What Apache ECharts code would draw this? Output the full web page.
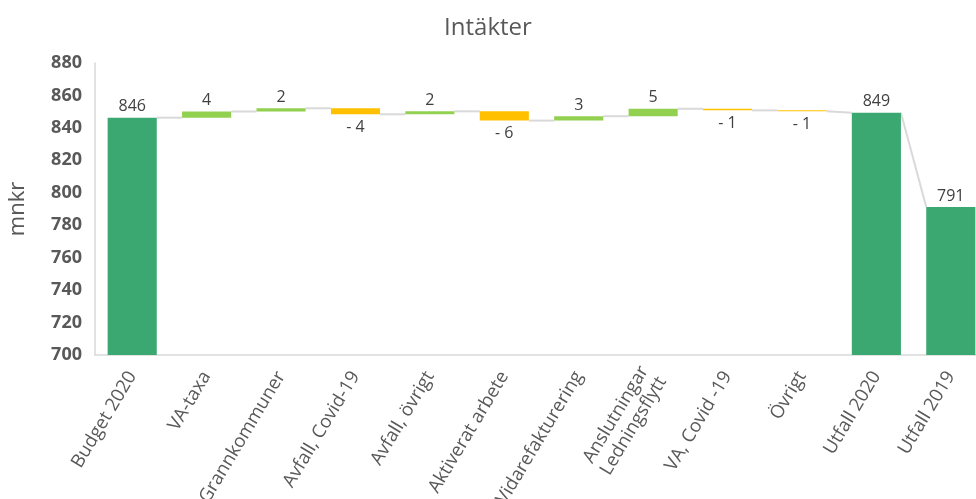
<!DOCTYPE html>
<html>
<head>
<meta charset="utf-8">
<script src="https://cdn.jsdelivr.net/npm/echarts@6/dist/echarts.min.js"></script>
<style>html,body{margin:0;padding:0;background:#fff;overflow:hidden;}#c{width:976px;height:499px;}</style>
</head>
<body>
<div id="c"></div>
<script>
// Categories and values (mnkr)
const categories = ['Budget 2020','VA-taxa','Grannkommuner','Avfall, Covid-19','Avfall, övrigt','Aktiverat arbete','Vidarefakturering','Anslutningar\nLedningsflytt','VA, Covid -19','Övrigt','Utfall 2020','Utfall 2019'];
// type: 'total' or 'delta'
const kinds = ['total','delta','delta','delta','delta','delta','delta','delta','delta','delta','total','total'];
const values = [846.3, 3.8, 2.0, -3.7, 1.8, -5.7, 2.7, 4.6, -1.0, -0.6, 849.4, 791.2];
const yTicks = {min: 700, max: 880, interval: 20};

// Build waterfall helper arrays
const base = [], totals = [], incs = [], decs = [], ends = [];
let run = 0;
for (let i = 0; i < values.length; i++) {
  if (kinds[i] === 'total') {
    run = values[i];
    base.push(0); totals.push(values[i]); incs.push('-'); decs.push('-');
    ends.push(values[i]);
  } else {
    const s = run, e = run + values[i];
    base.push(Math.min(s, e));
    totals.push('-');
    if (values[i] >= 0) { incs.push(values[i]); decs.push('-'); }
    else { decs.push(-values[i]); incs.push('-'); }
    ends.push(e);
    run = e;
  }
}
// connectors: from end of bar i to start (top) of bar i+1
const connectors = [];
for (let i = 0; i < values.length - 1; i++) {
  const nextTop = kinds[i+1] === 'total' ? values[i+1] : ends[i];
  connectors.push([i, ends[i], nextTop]);
}

const fontFam = '"Open Sans", Calibri, sans-serif';
const labelColor = '#404040';
const BARW = 0.66;

const chart = echarts.init(document.getElementById('c'));
chart.setOption({
  animation: false,
  title: {
    text: 'Intäkter', left: 'center', top: 11,
    textStyle: {fontFamily: fontFam, fontSize: 24, fontWeight: 'normal', color: '#595959'}
  },
  grid: {left: 95, width: 893, top: 63, bottom: 144, containLabel: false, outerBoundsMode: 'none'},
  xAxis: {
    type: 'category', data: categories,
    axisLine: {lineStyle: {color: '#d9d9d9', width: 1.5}},
    axisTick: {show: false},
    axisLabel: {rotate: 59, interval: 0, margin: 18, fontFamily: fontFam, fontSize: 18.5, color: '#595959', lineHeight: 21, align: 'right'}
  },
  yAxis: {
    type: 'value', min: yTicks.min, max: yTicks.max, interval: yTicks.interval,
    name: 'mnkr', nameLocation: 'middle', nameGap: 66, nameRotate: 90,
    nameTextStyle: {fontFamily: fontFam, fontSize: 22, color: '#595959'},
    axisLine: {show: true, lineStyle: {color: '#d9d9d9', width: 1.5}},
    axisTick: {show: false},
    splitLine: {show: false},
    axisLabel: {fontFamily: fontFam, fontSize: 18, fontWeight: 'bold', color: '#595959', margin: 13}
  },
  series: [
    {type: 'bar', stack: 'w', data: base, barWidth: (BARW*100)+'%', itemStyle: {color: 'transparent'}, silent: true},
    {type: 'bar', stack: 'w', data: totals, barWidth: (BARW*100)+'%', itemStyle: {color: '#3AA870'},
      label: {show: true, position: 'top', distance: 3, fontFamily: fontFam, fontSize: 16, color: labelColor,
        formatter: p => String(Math.round(values[p.dataIndex]))}},
    {type: 'bar', stack: 'w', data: incs, barWidth: (BARW*100)+'%', itemStyle: {color: '#92D050'},
      label: {show: true, position: 'top', distance: 3, fontFamily: fontFam, fontSize: 16, color: labelColor,
        formatter: p => String(Math.round(values[p.dataIndex]))}},
    {type: 'bar', stack: 'w', data: decs, barWidth: (BARW*100)+'%', itemStyle: {color: '#FFC000'},
      label: {show: true, position: 'bottom', distance: 5, fontFamily: fontFam, fontSize: 16, color: labelColor,
        formatter: p => '- ' + Math.round(-values[p.dataIndex])}},
    {type: 'custom', data: connectors, silent: true, z: 1,
      renderItem: function (params, api) {
        const i = api.value(0);
        const a = api.coord([i, api.value(1)]);
        const b = api.coord([i + 1, api.value(2)]);
        const half = api.size([1, 0])[0] * BARW / 2;
        return {type: 'line', shape: {x1: a[0] + half, y1: a[1], x2: b[0] - half, y2: b[1]},
          style: {stroke: '#d9d9d9', lineWidth: 2}};
      }}
  ]
});
</script>
</body>
</html>
